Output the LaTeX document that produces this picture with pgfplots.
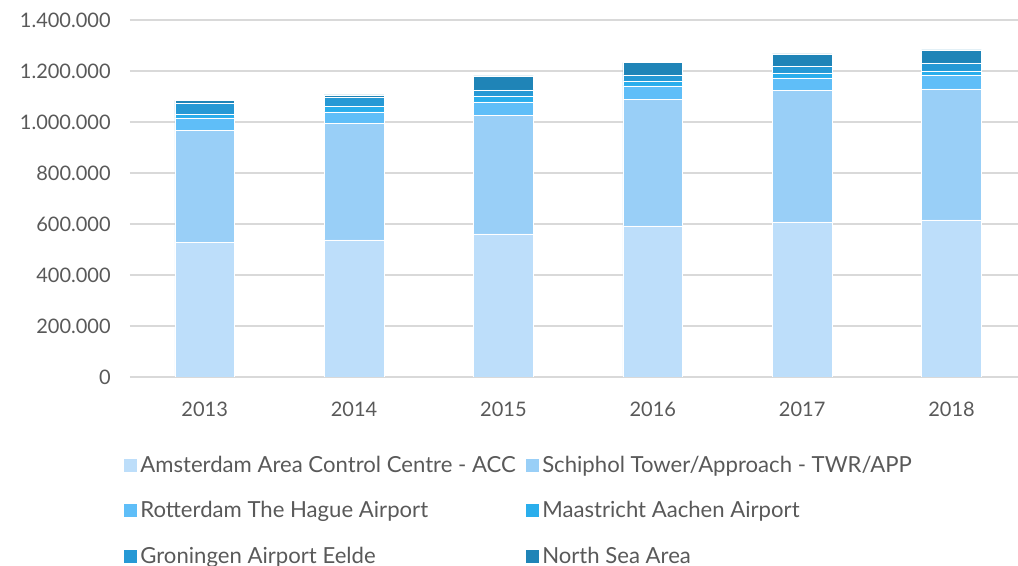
\documentclass[border=0pt]{standalone}
\usepackage{pgfplots}
\pgfplotsset{compat=1.18}
\usepackage{pgfplotstable}
\usepackage{fontspec}
\setmainfont{Lato}
\usetikzlibrary{calc}

\definecolor{acc}{HTML}{BDDEFA}
\definecolor{twr}{HTML}{99CFF7}
\definecolor{rth}{HTML}{5FBEF8}
\definecolor{mst}{HTML}{2AAEEC}
\definecolor{gro}{HTML}{2699D5}
\definecolor{nsa}{HTML}{1F84B7}
\definecolor{txt}{HTML}{595959}
\definecolor{grd}{HTML}{D9D9D9}

% movements per year
\pgfplotstableread{
x  acc    twr    rth   mst   gro   nsa
0  526700 439300 49800 14500 43000 11700
1  537300 456100 45900 20900 36800 9000
2  560800 465600 52200 23500 23500 55000
3  592200 495400 53700 19600 23500 48300
4  607900 515000 49800 19600 27400 47100
5  615700 513800 54900 15700 31400 51000
}\movements

\begin{document}
\begin{tikzpicture}[font=\fontsize{15}{18}\selectfont]
\begin{axis}[
  scale only axis,
  width=666pt, height=267.75pt,
  ybar stacked, bar width=0.4,
  xmin=-0.5, xmax=5.445,
  ymin=0, ymax=1400000,
  ytick distance=200000,
  xtick=data,
  xticklabels={2013,2014,2015,2016,2017,2018},
  major tick length=0pt,
  axis line style={draw=none},
  ymajorgrids, grid style={grd, line width=1.1pt},
  tick label style={text=txt},
  yticklabel style={xshift=-11pt},
  xticklabel style={yshift=-15.5pt},
  scaled y ticks=false,
  /pgf/number format/.cd, fixed, 1000 sep={.}, assume math mode=true,
  /pgfplots/.cd,
  legend columns=2,
  legend cell align=left,
  legend style={draw=none, fill=none, text=txt,
    font=\fontsize{16.6}{19}\selectfont,
    at={(-0.0124,-0.205)}, anchor=north west,
    /tikz/every even column/.append style={column sep=5pt},
    row sep=16.5pt},
  legend image code/.code={\fill[#1] (0pt,-5.25pt) rectangle (10.5pt,5.25pt);},
  every axis plot/.append style={draw=white, line width=0.35pt},
]
\addplot[fill=acc] table[x=x, y=acc] {\movements};
\addplot[fill=twr] table[x=x, y=twr] {\movements};
\addplot[fill=rth] table[x=x, y=rth] {\movements};
\addplot[fill=mst] table[x=x, y=mst] {\movements};
\addplot[fill=gro] table[x=x, y=gro] {\movements};
\addplot[fill=nsa] table[x=x, y=nsa] {\movements};
\legend{Amsterdam Area Control Centre - ACC, Schiphol Tower/Approach - TWR/APP,
  Rotterdam The Hague Airport, Maastricht Aachen Airport,
  Groningen Airport Eelde, North Sea Area}
\coordinate (bl) at (rel axis cs:0,0);
\coordinate (tr) at (rel axis cs:1,1);
\end{axis}
\pgfresetboundingbox
\path ($(bl)+(-97.5pt,-141.75pt)$) rectangle ($(tr)+(0pt,15pt)$);
\end{tikzpicture}
\end{document}
